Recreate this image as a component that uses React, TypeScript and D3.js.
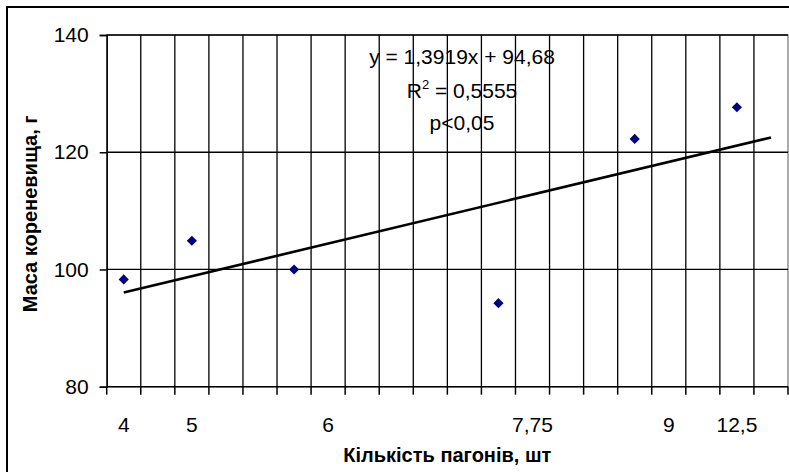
import { useEffect, useRef } from "react"
import * as d3 from "d3"

// category labels (Excel-like line chart, 20 categories, most unlabeled)
const categoryLabels = ["4", "", "5", "", "", "", "6", "", "", "", "", "", "7,75", "", "", "", "9", "", "12,5", ""]
// rhizome mass per category, null = no point
const massValues: (number | null)[] = [98.3, null, 104.9, null, null, 100, null, null, null, null, null, 94.25, null, null, null, 122.27, null, null, 127.67, null]
const yTicks = [80, 100, 120, 140]
const trendSlope = 1.3919
const trendIntercept = 94.68
const equationLines = ["y = 1,3919x + 94,68", "R2 = 0,5555", "p<0,05"]

const W = 789, H = 472
const margin = { top: 35, left: 106.7, right: 1, bottom: 85.3 }

export default function App() {
    const ref = useRef<SVGSVGElement>(null)

    useEffect(() => {
        const svg = d3.select(ref.current)
        svg.selectAll("*").remove()

        const font = "'Liberation Sans', Arial, sans-serif"
        const x0 = margin.left, x1 = W - margin.right
        const y0 = H - margin.bottom, y1 = margin.top

        // outer chart border
        svg.append("rect")
            .attr("x", 7).attr("y", 7)
            .attr("width", 820).attr("height", 500)
            .attr("fill", "white")
            .attr("stroke", "black")
            .attr("stroke-width", 2)

        const idx = d3.range(categoryLabels.length)
        const xBand = d3.scaleBand<number>().domain(idx).range([x0, x1]).padding(0)
        const bw = xBand.bandwidth()
        const xPos = (i: number) => xBand(i)! + bw / 2
        // category number (1-based) -> pixel, for the trend line
        const xCat = d3.scaleLinear().domain([1, categoryLabels.length]).range([xPos(0), xPos(categoryLabels.length - 1)])

        const y = d3.scaleLinear().domain([80, 140]).range([y0, y1])

        // plot area frame (gray)
        svg.append("rect")
            .attr("x", x0).attr("y", y1)
            .attr("width", x1 - x0).attr("height", y0 - y1)
            .attr("fill", "white")
            .attr("stroke", "#808080")
            .attr("stroke-width", 1.3)

        // vertical gridlines on category boundaries
        const bounds = d3.range(categoryLabels.length + 1).map((i) => x0 + i * bw)
        svg.append("g")
            .selectAll("line")
            .data(bounds.slice(1, -1))
            .join("line")
            .attr("x1", (d) => d).attr("x2", (d) => d)
            .attr("y1", y1).attr("y2", y0)
            .attr("stroke", "black")
            .attr("stroke-width", 1.3)

        // horizontal gridlines
        svg.append("g")
            .selectAll("line")
            .data(yTicks.slice(1))
            .join("line")
            .attr("x1", x0).attr("x2", x1)
            .attr("y1", (d) => y(d)).attr("y2", (d) => y(d))
            .attr("stroke", "black")
            .attr("stroke-width", 1.3)

        // axes
        const yAxis = d3.axisLeft(y).tickValues(yTicks).tickSize(7).tickPadding(10)
        const gy = svg.append("g").attr("transform", `translate(${x0},0)`).call(yAxis)
        gy.select(".domain").attr("stroke", "black").attr("stroke-width", 1.5)
        gy.selectAll(".tick line").attr("stroke", "black").attr("stroke-width", 1.5)
        gy.selectAll("text").style("font-family", font).style("font-size", "21px").attr("fill", "black").attr("dx", "-1")

        const gx = svg.append("g").attr("transform", `translate(0,${y0})`)
        gx.append("line").attr("x1", x0).attr("x2", x1).attr("y1", 0).attr("y2", 0)
            .attr("stroke", "black").attr("stroke-width", 1.5)
        gx.selectAll(".tk")
            .data(bounds)
            .join("line")
            .attr("class", "tk")
            .attr("x1", (d) => d).attr("x2", (d) => d)
            .attr("y1", 0).attr("y2", 8)
            .attr("stroke", "black").attr("stroke-width", 1.5)
        gx.selectAll(".lbl")
            .data(idx.filter((i) => categoryLabels[i] !== ""))
            .join("text")
            .attr("class", "lbl")
            .attr("x", (i) => xPos(i))
            .attr("y", 45)
            .attr("text-anchor", "middle")
            .style("font-family", font)
            .style("font-size", "21px")
            .text((i) => categoryLabels[i])

        // trend line
        const trend = d3.line<number>()
            .x((c) => xCat(c))
            .y((c) => y(trendSlope * c + trendIntercept))
        svg.append("path")
            .datum([1, categoryLabels.length])
            .attr("d", trend)
            .attr("fill", "none")
            .attr("stroke", "black")
            .attr("stroke-width", 2.6)

        // points
        const diamond = d3.symbol().type(d3.symbolDiamond2).size(66)
        svg.append("g")
            .selectAll("path")
            .data(idx.filter((i) => massValues[i] != null))
            .join("path")
            .attr("d", diamond)
            .attr("transform", (i) => `translate(${xPos(i)},${y(massValues[i]!)})`)
            .attr("fill", "#000080")

        // equation label
        const eq = svg.append("g").style("font-family", font).style("font-size", "21px")
        const baselines = [64, 98, 130]
        equationLines.forEach((s, k) => {
            const t = eq.append("text")
                .attr("x", 462)
                .attr("y", baselines[k])
                .attr("text-anchor", "middle")
            if (s.startsWith("R2")) {
                t.append("tspan").text("R")
                t.append("tspan").attr("dy", -9).style("font-size", "13px").text("2")
                t.append("tspan").attr("dy", 9).text(s.slice(2))
            } else {
                t.text(s)
            }
        })

        // axis titles
        svg.append("text")
            .attr("x", (x0 + x1) / 2)
            .attr("y", 462)
            .attr("text-anchor", "middle")
            .style("font-family", font)
            .style("font-size", "20px")
            .style("font-weight", "bold")
            .text("Кількість пагонів, шт")

        svg.append("text")
            .attr("transform", `translate(37,${(y0 + y1) / 2 + 3}) rotate(-90)`)
            .attr("text-anchor", "middle")
            .style("font-family", font)
            .style("font-size", "20px")
            .style("font-weight", "bold")
            .text("Маса кореневища, г")
    }, [])

    return (
        <svg ref={ref} width={W} height={H}
            style={{ position: "absolute", left: 0, top: 0, background: "white" }} />
    )
}
